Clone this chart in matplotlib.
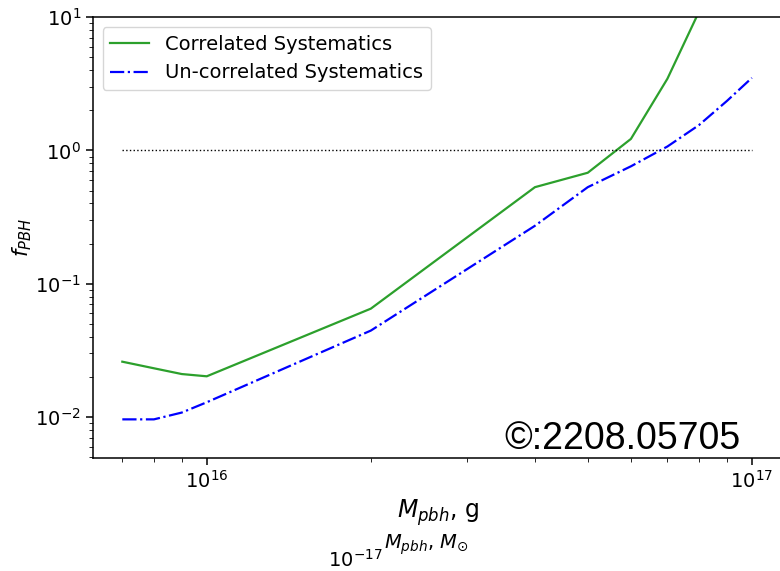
import numpy as np
import matplotlib
matplotlib.use("Agg")
import matplotlib.pyplot as plt

# PBH mass grid (grams) and constraints on f_PBH
m_pbh = [7e15, 8e15, 9e15, 1e16, 2e16, 4e16, 5e16, 6e16, 7e16, 8e16, 9e16, 1e17]
f_corr = [0.026, 0.0232, 0.021, 0.0202, 0.065, 0.53, 0.68, 1.22, 3.45, 11.0, 30.0, 80.0]
f_uncorr = [0.0096, 0.0096, 0.0108, 0.0129, 0.0445, 0.272, 0.53, 0.76, 1.07, 1.55, 2.35, 3.5]

MSUN_G = 1.87e33  # grams per solar mass used for the top axis
sec_ticks = [1e-17]

fig = plt.figure(figsize=(7.8, 5.71), dpi=100)
ax = fig.add_axes([0.119, 0.198, 0.886, 0.772])

ax.plot(m_pbh, f_corr, color="tab:green", lw=1.6, label="Correlated Systematics")
ax.plot(m_pbh, f_uncorr, color="b", lw=1.6, ls="-.", label="Un-correlated Systematics")
ax.plot(m_pbh, np.ones(len(m_pbh)), "k:", lw=1.0)

ax.set_xscale("log")
ax.set_yscale("log")
ax.set_xlim(6.18e15, 1.145e17)
ax.set_ylim(4.93e-3, 10)

ax.tick_params(labelsize=14, width=1.1)
ax.tick_params(which="major", length=5)
ax.tick_params(which="minor", length=3)
for s in ax.spines.values():
    s.set_linewidth(1.1)

ax.set_xlabel(r"$M_{pbh}$, g", fontsize=17)
ax.set_ylabel(r"$f_{PBH}$", fontsize=15)
ax.yaxis.set_label_coords(-0.085, 0.5)

ax.legend(loc="upper left", fontsize=14)

ax.text(0.596, 0.02, "©:2208.05705", transform=ax.transAxes,
        fontsize=27, family="Liberation Sans", va="baseline", ha="left")

# second axis in solar masses
sec = ax.secondary_xaxis(-0.195, functions=(lambda m: m / MSUN_G, lambda s: s * MSUN_G))
sec.spines["bottom"].set_visible(False)
sec.tick_params(which="both", length=0, labelsize=14)
sec.xaxis.set_major_locator(matplotlib.ticker.FixedLocator(sec_ticks))
sec.xaxis.set_minor_locator(matplotlib.ticker.NullLocator())
sec.set_xlabel(r"$M_{pbh}$, $M_{\odot}$", fontsize=14)
sec.xaxis.set_label_coords(0.483, -0.17, transform=ax.transAxes)

fig.savefig("out.png", dpi=100)
